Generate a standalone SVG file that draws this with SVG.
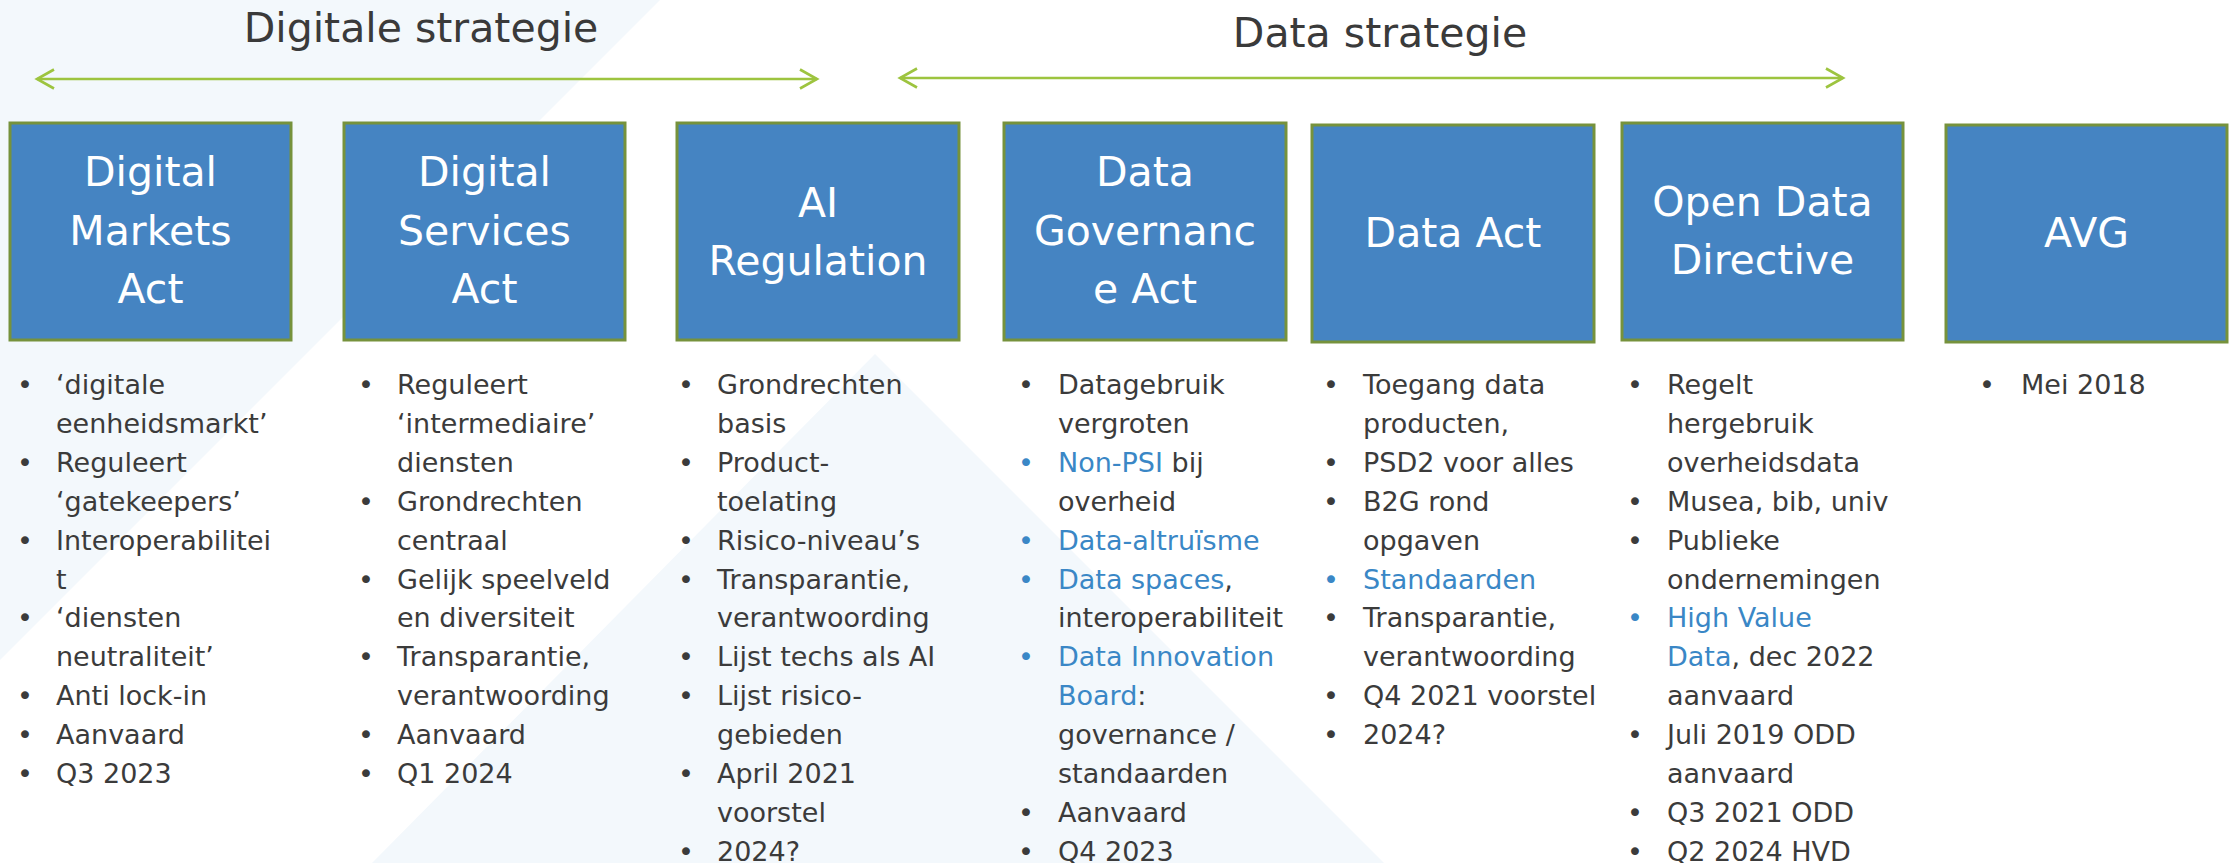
<svg xmlns="http://www.w3.org/2000/svg" width="2238" height="863" viewBox="0 0 2238 863">
<defs>
<marker id="chev" markerUnits="userSpaceOnUse" markerWidth="24" markerHeight="24" viewBox="0 0 24 24" refX="20" refY="12" orient="auto-start-reverse">
<path d="M3,2.5 L20,12 L3,21.5" fill="none" stroke="#9DC43F" stroke-width="2.6"/>
</marker>
</defs>
<style>
.bg{fill:#F3F8FC}
.box{fill:#4584C2;stroke:#76923C;stroke-width:3}
.bt{font-family:"DejaVu Sans",sans-serif;font-size:41px;fill:#FFFFFF;text-anchor:middle}
.title{font-family:"DejaVu Sans",sans-serif;font-size:41px;fill:#3A3A3A;text-anchor:middle}
.t{font-family:"DejaVu Sans",sans-serif;font-size:27px;fill:#3B3B3B}
.b{font-family:"DejaVu Sans",sans-serif;font-size:27px;fill:#3B3B3B;text-anchor:middle}
.hl{fill:#3A87C6}
.arr{stroke:#9DC43F;stroke-width:2.6;fill:none;marker-start:url(#chev);marker-end:url(#chev)}
</style>
<rect x="0" y="0" width="2238" height="863" fill="#FFFFFF"/>
<polygon class="bg" points="0,0 660,0 0,660"/>
<polygon class="bg" points="875,354 372,863 1384,863"/>

<text class="title" x="421" y="42">Digitale strategie</text>
<text class="title" x="1380" y="47">Data strategie</text>

<g id="connectors">
<line class="arr" x1="37" y1="79" x2="817" y2="79"/>
<line class="arr" x1="900" y1="78" x2="1843" y2="78"/>
</g>

<g id="node-dma">
<rect class="box" x="10" y="123" width="281" height="217"/>
<text class="bt" x="150.5" y="186">Digital</text>
<text class="bt" x="150.5" y="245">Markets</text>
<text class="bt" x="150.5" y="303">Act</text>
<text class="b" x="25" y="394">•</text><text class="t" x="56" y="394">‘digitale</text>
<text class="t" x="56" y="432.9">eenheidsmarkt’</text>
<text class="b" x="25" y="471.8">•</text><text class="t" x="56" y="471.8">Reguleert</text>
<text class="t" x="56" y="510.7">‘gatekeepers’</text>
<text class="b" x="25" y="549.6">•</text><text class="t" x="56" y="549.6">Interoperabilitei</text>
<text class="t" x="56" y="588.5">t</text>
<text class="b" x="25" y="627.4">•</text><text class="t" x="56" y="627.4">‘diensten</text>
<text class="t" x="56" y="666.3">neutraliteit’</text>
<text class="b" x="25" y="705.2">•</text><text class="t" x="56" y="705.2">Anti lock-in</text>
<text class="b" x="25" y="744.1">•</text><text class="t" x="56" y="744.1">Aanvaard</text>
<text class="b" x="25" y="783">•</text><text class="t" x="56" y="783">Q3 2023</text>
</g>

<g id="node-dsa">
<rect class="box" x="344" y="123" width="281" height="217"/>
<text class="bt" x="484.5" y="186">Digital</text>
<text class="bt" x="484.5" y="245">Services</text>
<text class="bt" x="484.5" y="303">Act</text>
<text class="b" x="366" y="394">•</text><text class="t" x="397" y="394">Reguleert</text>
<text class="t" x="397" y="432.9">‘intermediaire’</text>
<text class="t" x="397" y="471.8">diensten</text>
<text class="b" x="366" y="510.7">•</text><text class="t" x="397" y="510.7">Grondrechten</text>
<text class="t" x="397" y="549.6">centraal</text>
<text class="b" x="366" y="588.5">•</text><text class="t" x="397" y="588.5">Gelijk speelveld</text>
<text class="t" x="397" y="627.4">en diversiteit</text>
<text class="b" x="366" y="666.3">•</text><text class="t" x="397" y="666.3">Transparantie,</text>
<text class="t" x="397" y="705.2">verantwoording</text>
<text class="b" x="366" y="744.1">•</text><text class="t" x="397" y="744.1">Aanvaard</text>
<text class="b" x="366" y="783">•</text><text class="t" x="397" y="783">Q1 2024</text>
</g>

<g id="node-ai">
<rect class="box" x="677" y="123" width="282" height="217"/>
<text class="bt" x="818" y="217">AI</text>
<text class="bt" x="818" y="275">Regulation</text>
<text class="b" x="686" y="394">•</text><text class="t" x="717" y="394">Grondrechten</text>
<text class="t" x="717" y="432.9">basis</text>
<text class="b" x="686" y="471.8">•</text><text class="t" x="717" y="471.8">Product-</text>
<text class="t" x="717" y="510.7">toelating</text>
<text class="b" x="686" y="549.6">•</text><text class="t" x="717" y="549.6">Risico-niveau’s</text>
<text class="b" x="686" y="588.5">•</text><text class="t" x="717" y="588.5">Transparantie,</text>
<text class="t" x="717" y="627.4">verantwoording</text>
<text class="b" x="686" y="666.3">•</text><text class="t" x="717" y="666.3">Lijst techs als AI</text>
<text class="b" x="686" y="705.2">•</text><text class="t" x="717" y="705.2">Lijst risico-</text>
<text class="t" x="717" y="744.1">gebieden</text>
<text class="b" x="686" y="783">•</text><text class="t" x="717" y="783">April 2021</text>
<text class="t" x="717" y="821.9">voorstel</text>
<text class="b" x="686" y="860.8">•</text><text class="t" x="717" y="860.8">2024?</text>
</g>

<g id="node-dga">
<rect class="box" x="1004" y="123" width="282" height="217"/>
<text class="bt" x="1145" y="186">Data</text>
<text class="bt" x="1145" y="245">Governanc</text>
<text class="bt" x="1145" y="303">e Act</text>
<text class="b" x="1026" y="394">•</text><text class="t" x="1058" y="394">Datagebruik</text>
<text class="t" x="1058" y="432.9">vergroten</text>
<text class="b hl" x="1026" y="471.8">•</text><text class="t" x="1058" y="471.8"><tspan class="hl">Non-PSI</tspan> bij</text>
<text class="t" x="1058" y="510.7">overheid</text>
<text class="b hl" x="1026" y="549.6">•</text><text class="t hl" x="1058" y="549.6">Data-altruïsme</text>
<text class="b hl" x="1026" y="588.5">•</text><text class="t" x="1058" y="588.5"><tspan class="hl">Data spaces</tspan>,</text>
<text class="t" x="1058" y="627.4">interoperabiliteit</text>
<text class="b hl" x="1026" y="666.3">•</text><text class="t hl" x="1058" y="666.3">Data Innovation</text>
<text class="t" x="1058" y="705.2"><tspan class="hl">Board</tspan>:</text>
<text class="t" x="1058" y="744.1">governance /</text>
<text class="t" x="1058" y="783">standaarden</text>
<text class="b" x="1026" y="821.9">•</text><text class="t" x="1058" y="821.9">Aanvaard</text>
<text class="b" x="1026" y="860.8">•</text><text class="t" x="1058" y="860.8">Q4 2023</text>
</g>

<g id="node-data-act">
<rect class="box" x="1312" y="125" width="282" height="217"/>
<text class="bt" x="1453" y="247">Data Act</text>
<text class="b" x="1331" y="394">•</text><text class="t" x="1363" y="394">Toegang data</text>
<text class="t" x="1363" y="432.9">producten,</text>
<text class="b" x="1331" y="471.8">•</text><text class="t" x="1363" y="471.8">PSD2 voor alles</text>
<text class="b" x="1331" y="510.7">•</text><text class="t" x="1363" y="510.7">B2G rond</text>
<text class="t" x="1363" y="549.6">opgaven</text>
<text class="b hl" x="1331" y="588.5">•</text><text class="t hl" x="1363" y="588.5">Standaarden</text>
<text class="b" x="1331" y="627.4">•</text><text class="t" x="1363" y="627.4">Transparantie,</text>
<text class="t" x="1363" y="666.3">verantwoording</text>
<text class="b" x="1331" y="705.2">•</text><text class="t" x="1363" y="705.2">Q4 2021 voorstel</text>
<text class="b" x="1331" y="744.1">•</text><text class="t" x="1363" y="744.1">2024?</text>
</g>

<g id="node-odd">
<rect class="box" x="1622" y="123" width="281" height="217"/>
<text class="bt" x="1762.5" y="216">Open Data</text>
<text class="bt" x="1762.5" y="274">Directive</text>
<text class="b" x="1635" y="394">•</text><text class="t" x="1667" y="394">Regelt</text>
<text class="t" x="1667" y="432.9">hergebruik</text>
<text class="t" x="1667" y="471.8">overheidsdata</text>
<text class="b" x="1635" y="510.7">•</text><text class="t" x="1667" y="510.7">Musea, bib, univ</text>
<text class="b" x="1635" y="549.6">•</text><text class="t" x="1667" y="549.6">Publieke</text>
<text class="t" x="1667" y="588.5">ondernemingen</text>
<text class="b hl" x="1635" y="627.4">•</text><text class="t hl" x="1667" y="627.4">High Value</text>
<text class="t" x="1667" y="666.3"><tspan class="hl">Data</tspan>, dec 2022</text>
<text class="t" x="1667" y="705.2">aanvaard</text>
<text class="b" x="1635" y="744.1">•</text><text class="t" x="1667" y="744.1">Juli 2019 ODD</text>
<text class="t" x="1667" y="783">aanvaard</text>
<text class="b" x="1635" y="821.9">•</text><text class="t" x="1667" y="821.9">Q3 2021 ODD</text>
<text class="b" x="1635" y="860.8">•</text><text class="t" x="1667" y="860.8">Q2 2024 HVD</text>
</g>

<g id="node-avg">
<rect class="box" x="1946" y="125" width="281" height="217"/>
<text class="bt" x="2086.5" y="247">AVG</text>
<text class="b" x="1987" y="394">•</text><text class="t" x="2021" y="394">Mei 2018</text>
</g>
</svg>
